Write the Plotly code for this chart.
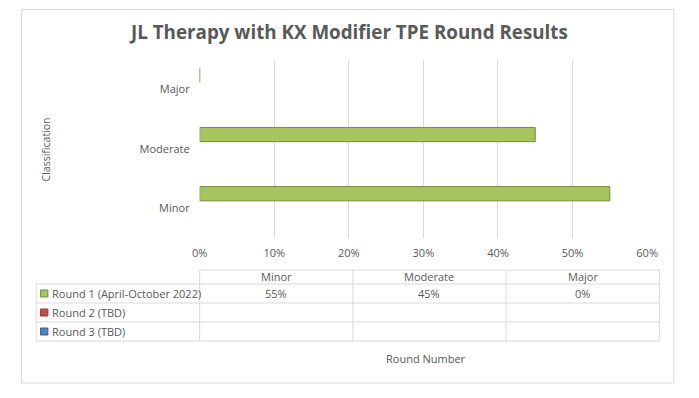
import plotly.graph_objects as go

W, H = 699, 398

categories = ["Minor", "Moderate", "Major"]
series_names = ["Round 1 (April-October 2022)", "Round 2 (TBD)", "Round 3 (TBD)"]
round1 = [0.55, 0.45, 0.00]
round2 = [None, None, None]
round3 = [None, None, None]
series_values = [round1, round2, round3]
series_colors = ["#a7c55e", "#c0504d", "#4f81bd"]
series_lines = ["#728d38", "#8c3836", "#385d8a"]
x_ticks = [0, 0.1, 0.2, 0.3, 0.4, 0.5, 0.6]

FONT = "Open Sans"
TXT = "#595959"
GRID = "#d9d9d9"
FS = 11


def px(x):
    return x / W


def py(y):
    return 1 - y / H


fig = go.Figure()
for i, (name, vals) in enumerate(zip(series_names, series_values)):
    fig.add_trace(go.Bar(
        y=categories, x=vals, orientation="h", name=name,
        width=0.24, offset=0.12 - 0.24 * i,
        marker=dict(color=series_colors[i], line=dict(color=series_lines[i], width=1)),
        showlegend=False, hoverinfo="skip",
    ))

# plot area (pixels)
PL, PR, PT, PB = 197, 657, 60, 237.5

fig.update_layout(
    width=W, height=H,
    margin=dict(l=0, r=0, t=0, b=0),
    paper_bgcolor="white", plot_bgcolor="white",
    font=dict(family=FONT, color=TXT, size=FS),
    barmode="overlay",
    xaxis=dict(domain=[px(PL), px(PR)], range=[0, 0.6], tickvals=x_ticks,
               tickformat=".0%", showgrid=True, gridcolor=GRID, gridwidth=1,
               zeroline=False, showline=False, ticks="", ticklabelstandoff=7,
               tickfont=dict(family=FONT, size=FS, color=TXT), fixedrange=True),
    yaxis=dict(domain=[py(PB), py(PT)], type="category", categoryorder="array",
               categoryarray=categories, range=[-0.5, 2.5], showgrid=False,
               zeroline=False, showline=False, ticks="", ticklabelstandoff=9,
               tickfont=dict(family=FONT, size=FS, color=TXT), fixedrange=True),
)

shapes = []
annotations = []

# outer border
shapes.append(dict(type="rect", xref="paper", yref="paper",
                   x0=px(14), x1=px(684.5), y0=py(383), y1=py(9.5),
                   line=dict(color=GRID, width=1)))

# title
annotations.append(dict(text="<b>JL Therapy with KX Modifier TPE Round Results</b>",
                        x=px(349.5), y=py(32), xref="paper", yref="paper",
                        xanchor="center", yanchor="middle", showarrow=False,
                        font=dict(family=FONT, size=18.8, color=TXT)))

# y axis title
annotations.append(dict(text="Classification", x=px(39.5), y=py(149),
                        xref="paper", yref="paper", textangle=-90,
                        xanchor="center", yanchor="middle", showarrow=False,
                        font=dict(family=FONT, size=10.5, color=TXT)))

# data table
col_x = [197, 354.5, 512, 669.5]
legend_left = 29
row_y = [270, 284, 303, 322, 341]

shapes.append(dict(type="line", xref="paper", yref="paper", x0=px(col_x[0]), x1=px(col_x[-1]),
                   y0=py(row_y[0]), y1=py(row_y[0]), line=dict(color=GRID, width=1)))
for yy in row_y[1:]:
    shapes.append(dict(type="line", xref="paper", yref="paper", x0=px(legend_left), x1=px(col_x[-1]),
                       y0=py(yy), y1=py(yy), line=dict(color=GRID, width=1)))
shapes.append(dict(type="line", xref="paper", yref="paper", x0=px(legend_left), x1=px(legend_left),
                   y0=py(row_y[1]), y1=py(row_y[-1]), line=dict(color=GRID, width=1)))
for xx in col_x:
    shapes.append(dict(type="line", xref="paper", yref="paper", x0=px(xx), x1=px(xx),
                       y0=py(row_y[0]), y1=py(row_y[-1]), line=dict(color=GRID, width=1)))

for j, cat in enumerate(categories):
    annotations.append(dict(text=cat, x=px((col_x[j] + col_x[j + 1]) / 2), y=py((row_y[0] + row_y[1]) / 2 - 0.5),
                            xref="paper", yref="paper", xanchor="center", yanchor="middle",
                            showarrow=False, font=dict(family=FONT, size=FS, color=TXT)))

for i, (name, vals) in enumerate(zip(series_names, series_values)):
    yc = (row_y[i + 1] + row_y[i + 2]) / 2
    shapes.append(dict(type="rect", xref="paper", yref="paper",
                       x0=px(33.5), x1=px(41), y0=py(yc + 3.5), y1=py(yc - 3.5),
                       fillcolor=series_colors[i], line=dict(color=series_lines[i], width=1)))
    annotations.append(dict(text=name, x=px(43), y=py(yc), xref="paper", yref="paper",
                            xanchor="left", yanchor="middle", showarrow=False,
                            font=dict(family=FONT, size=FS, color=TXT)))
    for j, v in enumerate(vals):
        if v is None:
            continue
        annotations.append(dict(text=f"{round(v * 100)}%", x=px((col_x[j] + col_x[j + 1]) / 2), y=py(yc),
                                xref="paper", yref="paper", xanchor="center", yanchor="middle",
                                showarrow=False, font=dict(family=FONT, size=FS, color=TXT)))

annotations.append(dict(text="Round Number", x=px(430), y=py(358), xref="paper", yref="paper",
                        xanchor="center", yanchor="middle", showarrow=False,
                        font=dict(family=FONT, size=FS, color=TXT)))

fig.update_layout(shapes=shapes, annotations=annotations)
fig.write_html(
    "out.html",
    config={"displayModeBar": False, "staticPlot": True},
    post_script="document.body.style.margin='0';document.body.style.padding='0';"
                "document.documentElement.style.overflow='hidden';",
)
